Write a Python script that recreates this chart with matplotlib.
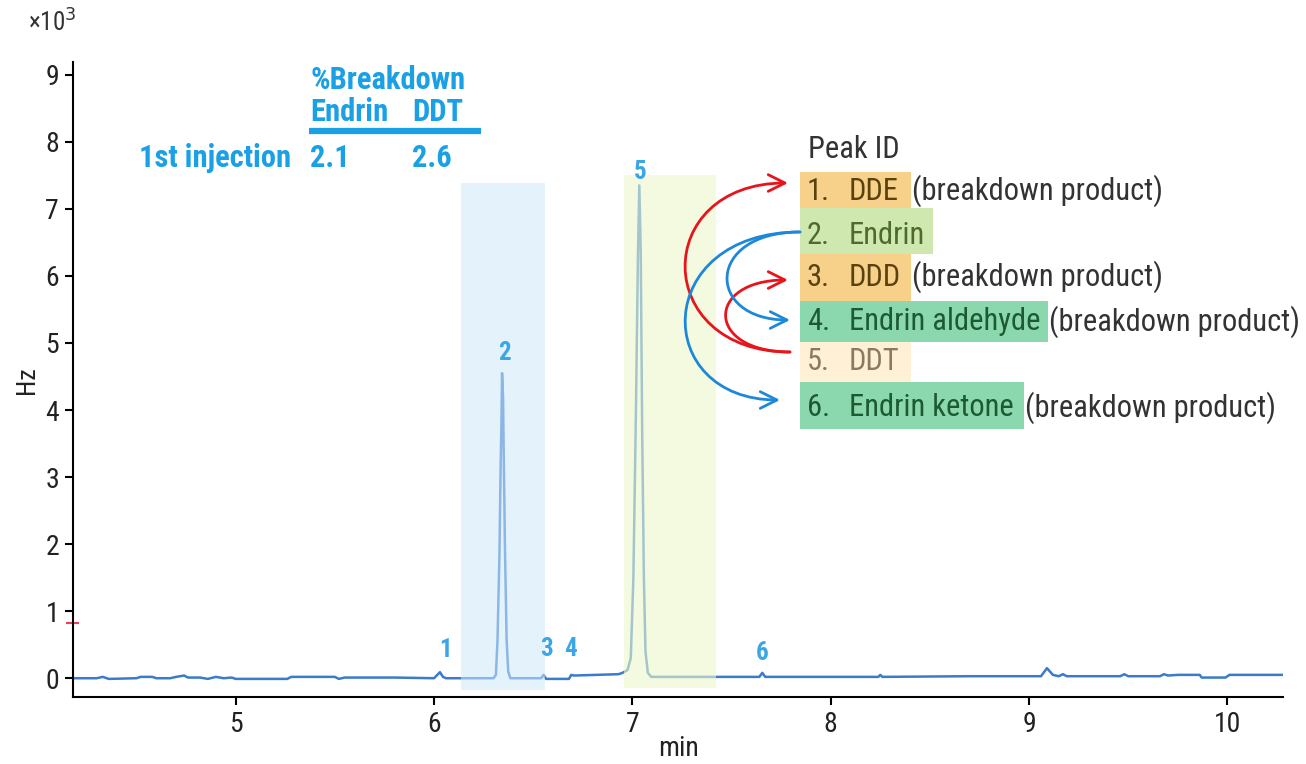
import matplotlib.pyplot as plt
from matplotlib.patches import FancyArrowPatch, Rectangle
from matplotlib.path import Path

plt.rcParams['font.family'] = ['Roboto Condensed', 'Archivo Narrow', 'PT Sans Narrow',
                               'Liberation Sans Narrow', 'DejaVu Sans']

# chromatogram trace, time (min) vs signal (x10^3 Hz)
time = [4.18, 4.30, 4.33, 4.36, 4.50, 4.52, 4.58, 4.60, 4.67, 4.70, 4.74, 4.76,
        4.82, 4.86, 4.90, 4.94, 4.98, 5.00, 5.26, 5.28, 5.50, 5.52, 5.55, 5.80,
        6.00, 6.030, 6.045, 6.06, 6.300, 6.312, 6.320, 6.330, 6.336, 6.340,
        6.343, 6.348, 6.352, 6.358, 6.366, 6.374, 6.385, 6.54, 6.552, 6.565,
        6.68, 6.692, 6.705, 6.93, 6.950, 6.975, 6.992, 7.005, 7.018, 7.028,
        7.035, 7.042, 7.050, 7.058, 7.066, 7.078, 7.095, 7.64, 7.655, 7.67,
        8.24, 8.25, 8.26, 8.70, 9.06, 9.09, 9.12, 9.15, 9.17, 9.19, 9.46,
        9.48, 9.50, 9.66, 9.68, 9.70, 9.75, 9.86, 9.87, 9.99, 10.01, 10.28]
signal = [0.0, 0.0, 0.02, -0.01, 0.0, 0.02, 0.02, 0.0, 0.0, 0.02, 0.04, 0.01,
          0.01, -0.01, 0.02, 0.0, 0.01, -0.01, -0.01, 0.02, 0.02, -0.01, 0.01, 0.01,
          0.0, 0.09, 0.02, 0.0, 0.0, 0.05, 0.57, 1.87, 3.2, 3.8,
          4.55, 4.2, 3.2, 1.87, 0.57, 0.1, 0.0, 0.0, 0.05, -0.01,
          -0.01, 0.05, 0.04, 0.06, 0.08, 0.12, 0.3, 1.5, 4.0, 6.3,
          7.35, 6.4, 3.5, 1.5, 0.4, 0.08, 0.02, 0.02, 0.08, 0.02,
          0.02, 0.05, 0.02, 0.03, 0.03, 0.15, 0.05, 0.03, 0.06, 0.03, 0.03,
          0.06, 0.03, 0.03, 0.06, 0.04, 0.05, 0.05, 0.01, 0.01, 0.05, 0.05]

# peak numbers and where their labels sit
peak_ids = ['1', '2', '3', '4', '5', '6']
peak_rt = [6.06, 6.355, 6.565, 6.69, 7.04, 7.655]
peak_label_y = [0.42, 4.85, 0.44, 0.44, 7.55, 0.38]

# retention windows of endrin and DDT
endrin_window = (6.134, 6.557)
ddt_window = (6.96, 7.42)

breakdown_endrin = 2.1
breakdown_ddt = 2.6

compounds = ['DDE', 'Endrin', 'DDD', 'Endrin aldehyde', 'DDT', 'Endrin ketone']
is_breakdown = [True, False, True, True, False, True]

blue_txt = '#1aa0e4'
line_c = '#3a7bcb'
ymin, ymax = -0.28, 9.19

fig = plt.figure(figsize=(13.06, 7.64), dpi=100)
ax = fig.add_axes([73 / 1306, 67 / 764, 1210 / 1306, 635 / 764])

ax.plot(time, signal, color=line_c, lw=1.8, zorder=2)
ax.axvspan(*endrin_window, ymin=(-0.18 - ymin) / (ymax - ymin), ymax=(7.39 - ymin) / (ymax - ymin),
           color='#cfe8fb', alpha=0.55, lw=0, zorder=3)
ax.axvspan(*ddt_window, ymin=(-0.15 - ymin) / (ymax - ymin), ymax=(7.5 - ymin) / (ymax - ymin),
           color='#ebf8cb', alpha=0.6, lw=0, zorder=3)

for pid, rt, ly in zip(peak_ids, peak_rt, peak_label_y):
    ax.text(rt, ly, pid, color='#3aa6e6', fontsize=18, fontweight='bold',
            ha='center', va='center', zorder=4)

ax.set_xlim(4.18, 10.28)
ax.set_ylim(ymin, ymax)
ax.set_xticks([5, 6, 7, 8, 9, 10])
ax.set_yticks(range(10))
ax.spines[['top', 'right']].set_visible(False)
ax.spines[['left', 'bottom']].set_linewidth(1.5)
ax.tick_params(direction='out', length=6, width=1.5, labelsize=20,
               labelcolor='#222222', pad=4)
ax.axhline(0.82, xmin=-0.005, xmax=0.004, color='#e8405a', lw=1.5, clip_on=False)

# overlay in pixel units for the annotations
ov = fig.add_axes([0, 0, 1, 1], facecolor='none')
ov.set_xlim(0, 1306)
ov.set_ylim(764, 0)
ov.axis('off')

ov.text(28, 23, r'×10$^3$', fontsize=18, color='#333333', ha='left', va='center')
ov.text(27, 380, 'Hz', fontsize=19, color='#222222', rotation=90, ha='center', va='center')
ov.text(678, 748, 'min', fontsize=20, color='#222222', ha='center', va='center')

# breakdown table
tkw = dict(fontsize=22, fontweight='bold', color=blue_txt, va='center')
ov.text(310, 80, '%Breakdown', **tkw)
ov.text(310, 112, 'Endrin', **tkw)
ov.text(412, 112, 'DDT', **tkw)
ov.plot([309, 481], [131, 131], color=blue_txt, lw=4.5, solid_capstyle='butt')
ov.text(291, 158, '1st injection', ha='right', **tkw)
ov.text(310, 158, f'{breakdown_endrin}', **tkw)
ov.text(412, 158, f'{breakdown_ddt}', **tkw)

# peak ID legend
fs = 22
ov.text(808, 150, 'Peak ID', fontsize=fs, color='#333333', va='center')
rows = [(172, 208, 911, '#f7d18a', '#5a4210'),
        (208, 254, 933, '#cfe8b0', '#4d6b2c'),
        (254, 301, 911, '#f7d18a', '#5a4210'),
        (301, 342, 1048, '#8bd8ae', '#1d5a32'),
        (336, 382, 911, '#fff0d6', '#8a7a60'),
        (382, 429, 1024, '#8bd8ae', '#1d5a32')]
row_y = [191, 236, 277, 322, 362, 408]
for i in [0, 1, 2, 4, 3, 5]:
    top, bot, right, fc, tc = rows[i]
    ov.add_patch(Rectangle((800, top), right - 800, bot - top, fc=fc, lw=0, zorder=1))
for i, (name, bd) in enumerate(zip(compounds, is_breakdown)):
    top, bot, right, fc, tc = rows[i]
    ov.text(807, row_y[i], f'{i + 1}.', fontsize=fs, color=tc, va='center', zorder=2)
    ov.text(849, row_y[i], name, fontsize=fs, color=tc, va='center', zorder=2)
    if bd:
        ov.text(right + 1, row_y[i], '(breakdown product)', fontsize=fs, color='#333333',
                va='center', zorder=2)


def curved_arrow(x0, y0, x1, y1, xc, color):
    verts = [(x0, y0), (xc, y0), (xc, y1), (x1, y1)]
    codes = [Path.MOVETO, Path.CURVE4, Path.CURVE4, Path.CURVE4]
    ov.add_patch(FancyArrowPatch(path=Path(verts, codes), arrowstyle='->',
                                 mutation_scale=30, color=color, lw=2.0, zorder=3))


curved_arrow(790, 352, 788, 183, 651, '#e8141c')
curved_arrow(790, 352, 788, 280, 705, '#e8141c')
curved_arrow(800, 232, 780, 400, 651, '#1e88d8')
curved_arrow(800, 232, 790, 320, 705, '#1e88d8')

fig.savefig('out.png', dpi=100)
